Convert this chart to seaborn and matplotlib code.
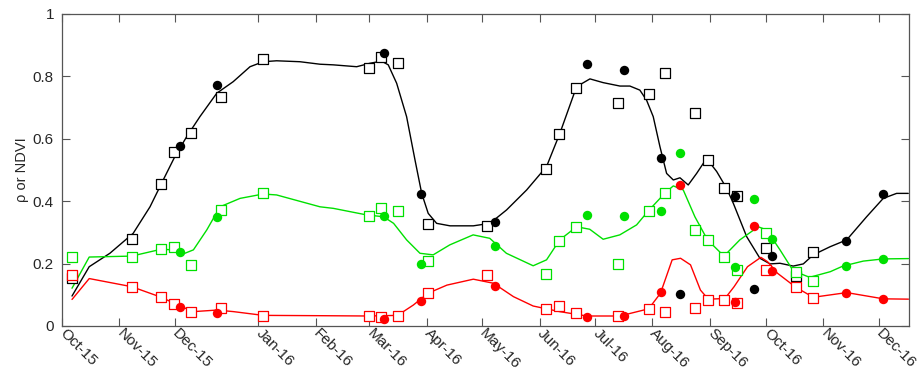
import numpy as np
import pandas as pd
import matplotlib
matplotlib.use("Agg")
import matplotlib.pyplot as plt
import seaborn as sns

# x values are days since 1 Oct 2015
tick_days = [0, 29.8, 58.8, 102.5, 132.7, 160.6, 190.6, 219.6, 249.8, 278.8,
             308.6, 338.8, 367.9, 398.0, 427.0]
tick_labels = ["Oct-15", "Nov-15", "Dec-15", "Jan-16", "Feb-16", "Mar-16", "Apr-16",
               "May-16", "Jun-16", "Jul-16", "Aug-16", "Sep-16", "Oct-16", "Nov-16",
               "Dec-16"]

# Open squares (sensor A)
sq_days = [5.1, 36.3, 51.8, 58.4, 67.3, 82.8, 105.1, 160.2, 166.8, 175.4, 191.3,
           222.3, 253.1, 259.8, 268.7, 290.5, 306.7, 315.4, 330.9, 337.5, 346.1,
           352.9, 368.2, 383.9, 392.5]
sq_nir = [0.155, 0.28, 0.456, 0.558, 0.62, 0.735, 0.855, 0.828, 0.861, 0.842, 0.326,
          0.321, 0.504, 0.614, 0.764, 0.714, 0.744, 0.811, 0.682, 0.533, 0.443,
          0.417, 0.251, 0.159, 0.238]
sq_ndvi = [0.222, 0.221, 0.248, 0.252, 0.195, 0.372, 0.427, 0.354, 0.379, 0.37, 0.209,
           np.nan, 0.168, 0.273, 0.318, 0.2, 0.367, 0.426, 0.309, 0.275, 0.221,
           0.179, 0.299, 0.173, 0.144]
sq_red = [0.162, 0.124, 0.092, 0.071, 0.045, 0.057, 0.033, 0.032, 0.03, 0.032, 0.105,
          0.164, 0.054, 0.064, 0.041, 0.032, 0.053, 0.045, 0.059, 0.083, 0.084,
          0.074, 0.178, 0.125, 0.089]

# Filled circles (sensor B)
ci_days = [61.7, 80.9, 168.1, 187.4, 226.1, 274.4, 294.0, 313.1, 322.9, 351.7,
           361.6, 371.2, 410.0, 429.4]
ci_nir = [0.577, 0.771, 0.876, 0.424, 0.334, 0.84, 0.822, 0.54, 0.102, 0.416,
          0.118, 0.225, 0.272, 0.423]
ci_ndvi = [0.236, 0.35, 0.353, 0.2, 0.257, 0.355, 0.353, 0.37, 0.555, 0.19,
           0.407, 0.28, 0.191, 0.214]
ci_red = [0.061, 0.043, 0.021, 0.081, 0.127, 0.03, 0.033, 0.109, 0.452, 0.076,
          0.321, 0.176, 0.107, 0.086]

# Fused daily curves
nir_line_days = [5.1, 14.1, 24.9, 37.1, 45.9, 52.8, 58.9, 65.1, 72.0, 80.8, 89.4,
                 98.2, 105.1, 112.1, 124.3, 134.8, 141.7, 154.0, 160.9, 167.0,
                 170.5, 174.9, 180.1, 184.5, 188.0, 191.4, 195.8, 202.8, 215.0,
                 223.7, 232.4, 242.9, 253.3, 260.3, 269.0, 276.0, 282.9, 291.7,
                 296.9, 302.1, 305.6, 309.1, 312.6, 316.1, 319.6, 323.1, 327.4,
                 331.8, 337.0, 342.3, 347.5, 351.0, 358.0, 364.9, 370.2, 375.4,
                 382.3, 387.6, 392.8, 401.6, 410.3, 420.7, 429.4, 436.4, 442.5]
nir_line = [0.096, 0.19, 0.233, 0.297, 0.382, 0.468, 0.543, 0.607, 0.671, 0.746,
            0.783, 0.831, 0.847, 0.85, 0.847, 0.839, 0.837, 0.831, 0.842, 0.849,
            0.837, 0.778, 0.671, 0.532, 0.425, 0.361, 0.329, 0.321, 0.321, 0.329,
            0.372, 0.436, 0.511, 0.618, 0.767, 0.792, 0.78, 0.769, 0.769, 0.756,
            0.724, 0.671, 0.575, 0.489, 0.468, 0.475, 0.452, 0.489, 0.537, 0.495,
            0.441, 0.393, 0.286, 0.217, 0.199, 0.201, 0.192, 0.199, 0.228, 0.254,
            0.276, 0.35, 0.409, 0.425, 0.425]

ndvi_line_days = [5.1, 14.1, 36.3, 51.8, 58.1, 63.3, 68.6, 75.6, 82.5, 93.0, 105.1,
                  112.1, 134.8, 141.8, 159.2, 168.1, 173.3, 180.1, 187.1, 194.0,
                  202.7, 214.9, 223.6, 232.3, 246.3, 253.3, 260.2, 269.0, 275.9,
                  282.9, 291.6, 300.4, 306.7, 315.4, 319.6, 324.8, 330.9, 337.5,
                  346.1, 354.4, 364.0, 368.4, 375.4, 382.3, 390.9, 401.7, 408.3,
                  419.0, 429.5, 442.6]
ndvi_line = [0.121, 0.221, 0.224, 0.246, 0.244, 0.231, 0.244, 0.308, 0.382, 0.409,
             0.423, 0.42, 0.382, 0.377, 0.356, 0.35, 0.329, 0.276, 0.233, 0.228,
             0.26, 0.292, 0.281, 0.233, 0.193, 0.212, 0.276, 0.318, 0.31, 0.278,
             0.292, 0.324, 0.37, 0.427, 0.449, 0.436, 0.35, 0.276, 0.224, 0.276,
             0.318, 0.308, 0.244, 0.177, 0.156, 0.174, 0.192, 0.208, 0.215, 0.216]

red_line_days = [5.1, 14.1, 36.3, 51.8, 61.6, 68.6, 80.8, 89.6, 105.1, 134.8, 160.2,
                 175.4, 183.6, 191.3, 201.2, 215.0, 225.5, 236.0, 246.3, 260.2,
                 274.4, 291.6, 306.7, 312.9, 319.0, 323.4, 328.6, 333.8, 337.9,
                 346.6, 351.4, 358.4, 365.4, 368.9, 374.1, 383.7, 392.8, 410.3,
                 429.5, 442.6]
red_line = [0.085, 0.152, 0.126, 0.092, 0.064, 0.046, 0.051, 0.046, 0.034, 0.033,
            0.032, 0.034, 0.067, 0.105, 0.131, 0.15, 0.137, 0.094, 0.064, 0.046,
            0.032, 0.032, 0.055, 0.105, 0.212, 0.217, 0.196, 0.115, 0.086, 0.088,
            0.126, 0.19, 0.22, 0.206, 0.169, 0.124, 0.092, 0.107, 0.087, 0.086]

BLACK = "#000000"
GREEN = "#00e000"
RED = "#ff0000"

sns.set_style("ticks")
plt.rcParams["font.family"] = ["Liberation Sans", "DejaVu Sans"]

fig = plt.figure(figsize=(9.21, 3.72), dpi=100)
ax = fig.add_axes([0.0676, 0.1237, 0.9190, 0.8387])

curves = [(nir_line_days, nir_line, BLACK),
          (ndvi_line_days, ndvi_line, GREEN),
          (red_line_days, red_line, RED)]
for d, v, c in curves:
    df = pd.DataFrame({"day": d, "value": v})
    sns.lineplot(data=df, x="day", y="value", color=c, lw=1.0, ax=ax,
                 sort=False, estimator=None)

for vals, c in [(sq_nir, BLACK), (sq_ndvi, GREEN), (sq_red, RED)]:
    df = pd.DataFrame({"day": sq_days, "value": vals}).dropna()
    sns.scatterplot(data=df, x="day", y="value", marker="s", s=46,
                    facecolor="white", edgecolor=c, linewidth=0.9, ax=ax, zorder=3)

for vals, c in [(ci_nir, BLACK), (ci_ndvi, GREEN), (ci_red, RED)]:
    df = pd.DataFrame({"day": ci_days, "value": vals})
    sns.scatterplot(data=df, x="day", y="value", marker="o", s=46,
                    color=c, edgecolor=c, linewidth=0, ax=ax, zorder=4)

ax.set_xlim(0, 442.7)
ax.set_ylim(0, 1)
ax.set_xticks(tick_days)
ax.set_xticklabels(tick_labels, rotation=-45, ha="left", va="center",
                   rotation_mode="anchor", fontsize=11)
ax.set_yticks([0, 0.2, 0.4, 0.6, 0.8, 1.0])
ax.set_yticklabels(["0", "0.2", "0.4", "0.6", "0.8", "1"], fontsize=11)
ax.tick_params(direction="in", length=6, width=0.8, color="#555555",
               top=True, right=True)
ax.tick_params(axis="x", pad=4)
ax.tick_params(axis="y", pad=6)
for sp in ax.spines.values():
    sp.set_color("#555555")
    sp.set_linewidth(0.9)
ax.set_xlabel("")
ax.set_ylabel("ρ or NDVI", fontsize=10.5, labelpad=3)

fig.savefig("out.png", dpi=100)
